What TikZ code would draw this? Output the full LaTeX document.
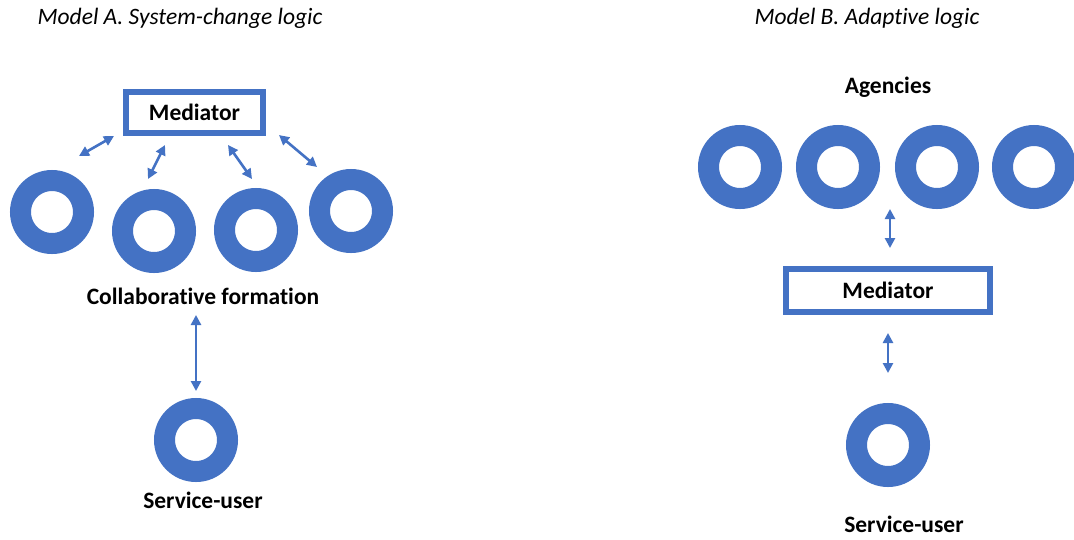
\documentclass[tikz,border=0pt]{standalone}
\usepackage{fontspec}
\setmainfont{Carlito}[Ligatures=NoCommon]
\usetikzlibrary{arrows.meta}
\definecolor{obl}{HTML}{4472C4}
\begin{document}
\begin{tikzpicture}[x=1pt,y=-1pt,
  ring/.style={circle,draw=obl,line width=21pt,minimum size=63pt,inner sep=0pt},
  medbox/.style={rectangle,draw=obl,line width=6pt,fill=white,inner sep=0pt,font=\fontsize{23.5}{26}\selectfont\bfseries},
  lbl/.style={font=\fontsize{23.5}{26}\selectfont\bfseries,inner sep=0pt},
  ttl/.style={font=\fontsize{23.5}{26}\selectfont\itshape,inner sep=0pt},
  dbl/.style={draw=obl,line width=2.6pt,{Triangle[length=10pt,width=10pt]}-{Triangle[length=10pt,width=10pt]}}]
\useasboundingbox[fill=white] (0,0) rectangle (1074,539);
% Model A
\node[ttl] (tA) at (180,18) {Model A. System-change logic};
\node[medbox,minimum width=137pt,minimum height=41pt] (medA) at (194.5,112.5) {Mediator};
\node[ring] (r1) at (52,212) {};
\node[ring] (r2) at (154,231) {};
\node[ring] (r3) at (256,230) {};
\node[ring] (r4) at (351,211) {};
\node[lbl] (collab) at (203,296) {Collaborative formation};
\node[ring] (suA) at (196,440) {};
\node[lbl] (suAl) at (203,500) {Service-user};
\coordinate (a1s) at (79,156); \coordinate (a1e) at (114,136);
\coordinate (a2s) at (148,179); \coordinate (a2e) at (165,145);
\coordinate (a3s) at (228,145); \coordinate (a3e) at (252,179);
\coordinate (a4s) at (279,135); \coordinate (a4e) at (317,167);
\coordinate (a5s) at (196,315); \coordinate (a5e) at (196,391);
\draw[dbl] (a1s) -- (a1e);
\draw[dbl] (a2s) -- (a2e);
\draw[dbl] (a3s) -- (a3e);
\draw[dbl] (a4s) -- (a4e);
\draw[dbl] (a5s) -- (a5e);
% Model B
\node[ttl] (tB) at (867,18) {Model B. Adaptive logic};
\node[lbl] (ag) at (888,87) {Agencies};
\node[ring] (b1) at (740,167) {};
\node[ring] (b2) at (838,167) {};
\node[ring] (b3) at (937,167) {};
\node[ring] (b4) at (1034,167) {};
\node[medbox,minimum width=204pt,minimum height=43pt] (medB) at (888,290.5) {Mediator\hspace{22pt}};
\node[ring] (suB) at (888,445) {};
\node[lbl] (suBl) at (904,524) {Service-user};
\coordinate (b5s) at (890,209); \coordinate (b5e) at (890,248);
\coordinate (b6s) at (888,333); \coordinate (b6e) at (888,373);
\draw[dbl] (b5s) -- (b5e);
\draw[dbl] (b6s) -- (b6e);
\end{tikzpicture}
\end{document}
